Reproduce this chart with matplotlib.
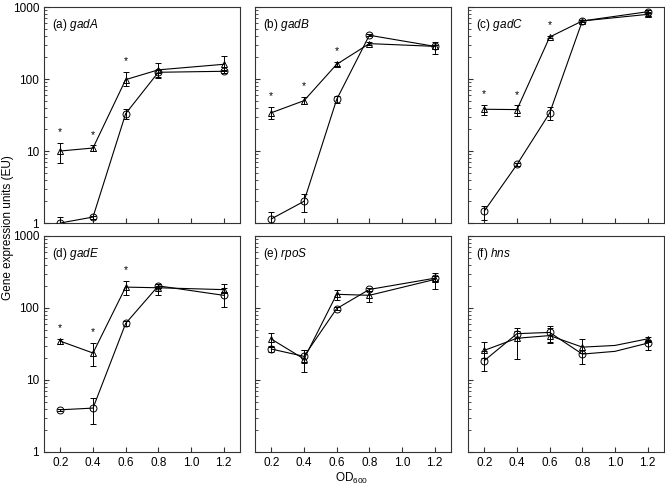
import matplotlib
matplotlib.use("Agg")
import matplotlib.pyplot as plt
import numpy as np

plt.rcParams['font.family'] = ['Liberation Sans', 'DejaVu Sans']
plt.rcParams['mathtext.fontset'] = 'custom'
plt.rcParams['mathtext.rm'] = 'Liberation Sans'
plt.rcParams['mathtext.it'] = 'Liberation Sans:italic'

# OD600 sampling points
od = [0.2, 0.4, 0.6, 0.8, 1.2]
od_hns = [0.2, 0.4, 0.6, 0.8, 1.0, 1.2]

genes = ['gadA', 'gadB', 'gadC', 'gadE', 'rpoS', 'hns']
letters = ['a', 'b', 'c', 'd', 'e', 'f']

# triangles: mean, lower and upper end of error bar
tri = {
    'gadA': [10, 11, 98, 134, 160],
    'gadB': [34, 50, 160, 310, 284],
    'gadC': [38, 37.6, 383, 640, 790],
    'gadE': [34.6, 23.7, 195, 191, 180],
    'rpoS': [37, 19.6, 155, 150, 249],
    'hns': [25.8, 38, 41.4, 28.6, 30.2, 37.3],
}
tri_lo = {
    'gadA': [6.9, 10, 79, 108, 130],
    'gadB': [28, 45, 150, 300, 225],
    'gadC': [32, 31, 370, 620, 740],
    'gadE': [31.5, 15.5, 150, 150, 165],
    'rpoS': [30, 13.0, 131, 121, 181],
    'hns': [20, 19.4, 34, 24, 30.2, 35],
}
tri_hi = {
    'gadA': [13, 12, 125, 168, 206],
    'gadB': [41, 56, 172, 325, 325],
    'gadC': [44, 43, 400, 665, 840],
    'gadE': [37.5, 32.5, 240, 205, 190],
    'rpoS': [45, 25.8, 179, 175, 304],
    'hns': [33.5, 48.5, 53, 36.8, 30.2, 39],
}

# circles
circ = {
    'gadA': [1.0, 1.21, 33, 124, 128],
    'gadB': [1.14, 2.0, 52, 405, 284],
    'gadC': [1.47, 6.5, 33.7, 640, 860],
    'gadE': [3.86, 4.07, 61, 203, 150],
    'rpoS': [26.9, 21.3, 98, 181, 259],
    'hns': [18.6, 44, 45.8, 22.9, 25, 32.5],
}
circ_lo = {
    'gadA': [0.95, 1.15, 28, 102, 122],
    'gadB': [0.9, 1.42, 46, 390, 265],
    'gadC': [1.11, 6.1, 26.6, 620, 820],
    'gadE': [3.7, 2.45, 57, 190, 103],
    'rpoS': [24.5, 17, 94, 174, 240],
    'hns': [13.2, 38, 32.5, 16.6, 25, 25.8],
}
circ_hi = {
    'gadA': [1.2, 1.27, 38, 135, 134],
    'gadB': [1.44, 2.5, 58, 420, 300],
    'gadC': [1.72, 6.9, 40.8, 660, 900],
    'gadE': [4.0, 5.6, 65, 215, 215],
    'rpoS': [29, 26.4, 102, 188, 280],
    'hns': [25, 53, 57, 26, 25, 36],
}

# points marked as significant (asterisks above triangle error bars)
star_od = [0.2, 0.4, 0.6]
star_genes = ['gadA', 'gadB', 'gadC', 'gadE']

fig = plt.figure(figsize=(6.65, 4.88), dpi=100)

lefts = [44 / 665, 255 / 665, 468 / 665]
bottoms = [1 - 223 / 488, 1 - 452 / 488]
w = 196 / 665
h = 216 / 488

for i, g in enumerate(genes):
    row, col = divmod(i, 3)
    ax = fig.add_axes([lefts[col], bottoms[row], w, h])
    x = od_hns if g == 'hns' else od

    t = np.array(tri[g])
    c = np.array(circ[g])
    terr = [t - np.array(tri_lo[g]), np.array(tri_hi[g]) - t]
    cerr = [c - np.array(circ_lo[g]), np.array(circ_hi[g]) - c]

    # connecting lines
    ax.plot(x, t, color='black', lw=0.8, zorder=2)
    ax.plot(x, c, color='black', lw=0.8, zorder=2)

    # markers & error bars (hns has no marker at 1.0)
    mx = [k for k, v in enumerate(x) if v != 1.0]
    xm = [x[k] for k in mx]
    ax.errorbar(xm, t[mx], yerr=[terr[0][mx], terr[1][mx]], fmt='^', mfc='none',
                mec='black', ms=5, mew=0.7, ecolor='black', elinewidth=0.7,
                capsize=2.5, capthick=0.7, zorder=3)
    ax.errorbar(xm, c[mx], yerr=[cerr[0][mx], cerr[1][mx]], fmt='o', mfc='none',
                mec='black', ms=5, mew=0.7, ecolor='black', elinewidth=0.7,
                capsize=2.5, capthick=0.7, zorder=3)

    if g in star_genes:
        for s in star_od:
            k = od.index(s)
            ax.text(s, tri_hi[g][k] * 1.2, '*', ha='center', va='bottom',
                    fontsize=7.5)

    ax.set_yscale('log')
    ax.set_ylim(1, 1000)
    ax.set_xlim(0.1, 1.3)
    ax.set_xticks([0.2, 0.4, 0.6, 0.8, 1.0, 1.2])
    ax.set_xticklabels(['0.2', '0.4', '0.6', '0.8', '1.0', '1.2'])
    ax.set_yticks([1, 10, 100, 1000])
    ax.set_yticklabels(['1', '10', '100', '1000'])
    ax.tick_params(which='both', direction='in', labelsize=8.5, color='#333333')
    ax.tick_params(which='major', length=3.5)
    ax.tick_params(which='minor', length=2)
    if row == 0:
        ax.tick_params(labelbottom=False)
    if col != 0:
        ax.tick_params(labelleft=False)
    for sp in ax.spines.values():
        sp.set_color('#333333')
        sp.set_linewidth(0.8)

    ax.text(0.04, 0.955, '(%s) $\\mathit{%s}$' % (letters[i], g),
            transform=ax.transAxes, fontsize=8.5, va='top', ha='left')

fig.text(8 / 665, 1 - 228 / 488, 'Gene expression units (EU)', rotation=90,
         ha='center', va='center', fontsize=8.5)
fig.text(352 / 665, 1 - 478 / 488, 'OD$_{600}$', ha='center', va='center',
         fontsize=8.5)

fig.savefig('out.png', dpi=100)
